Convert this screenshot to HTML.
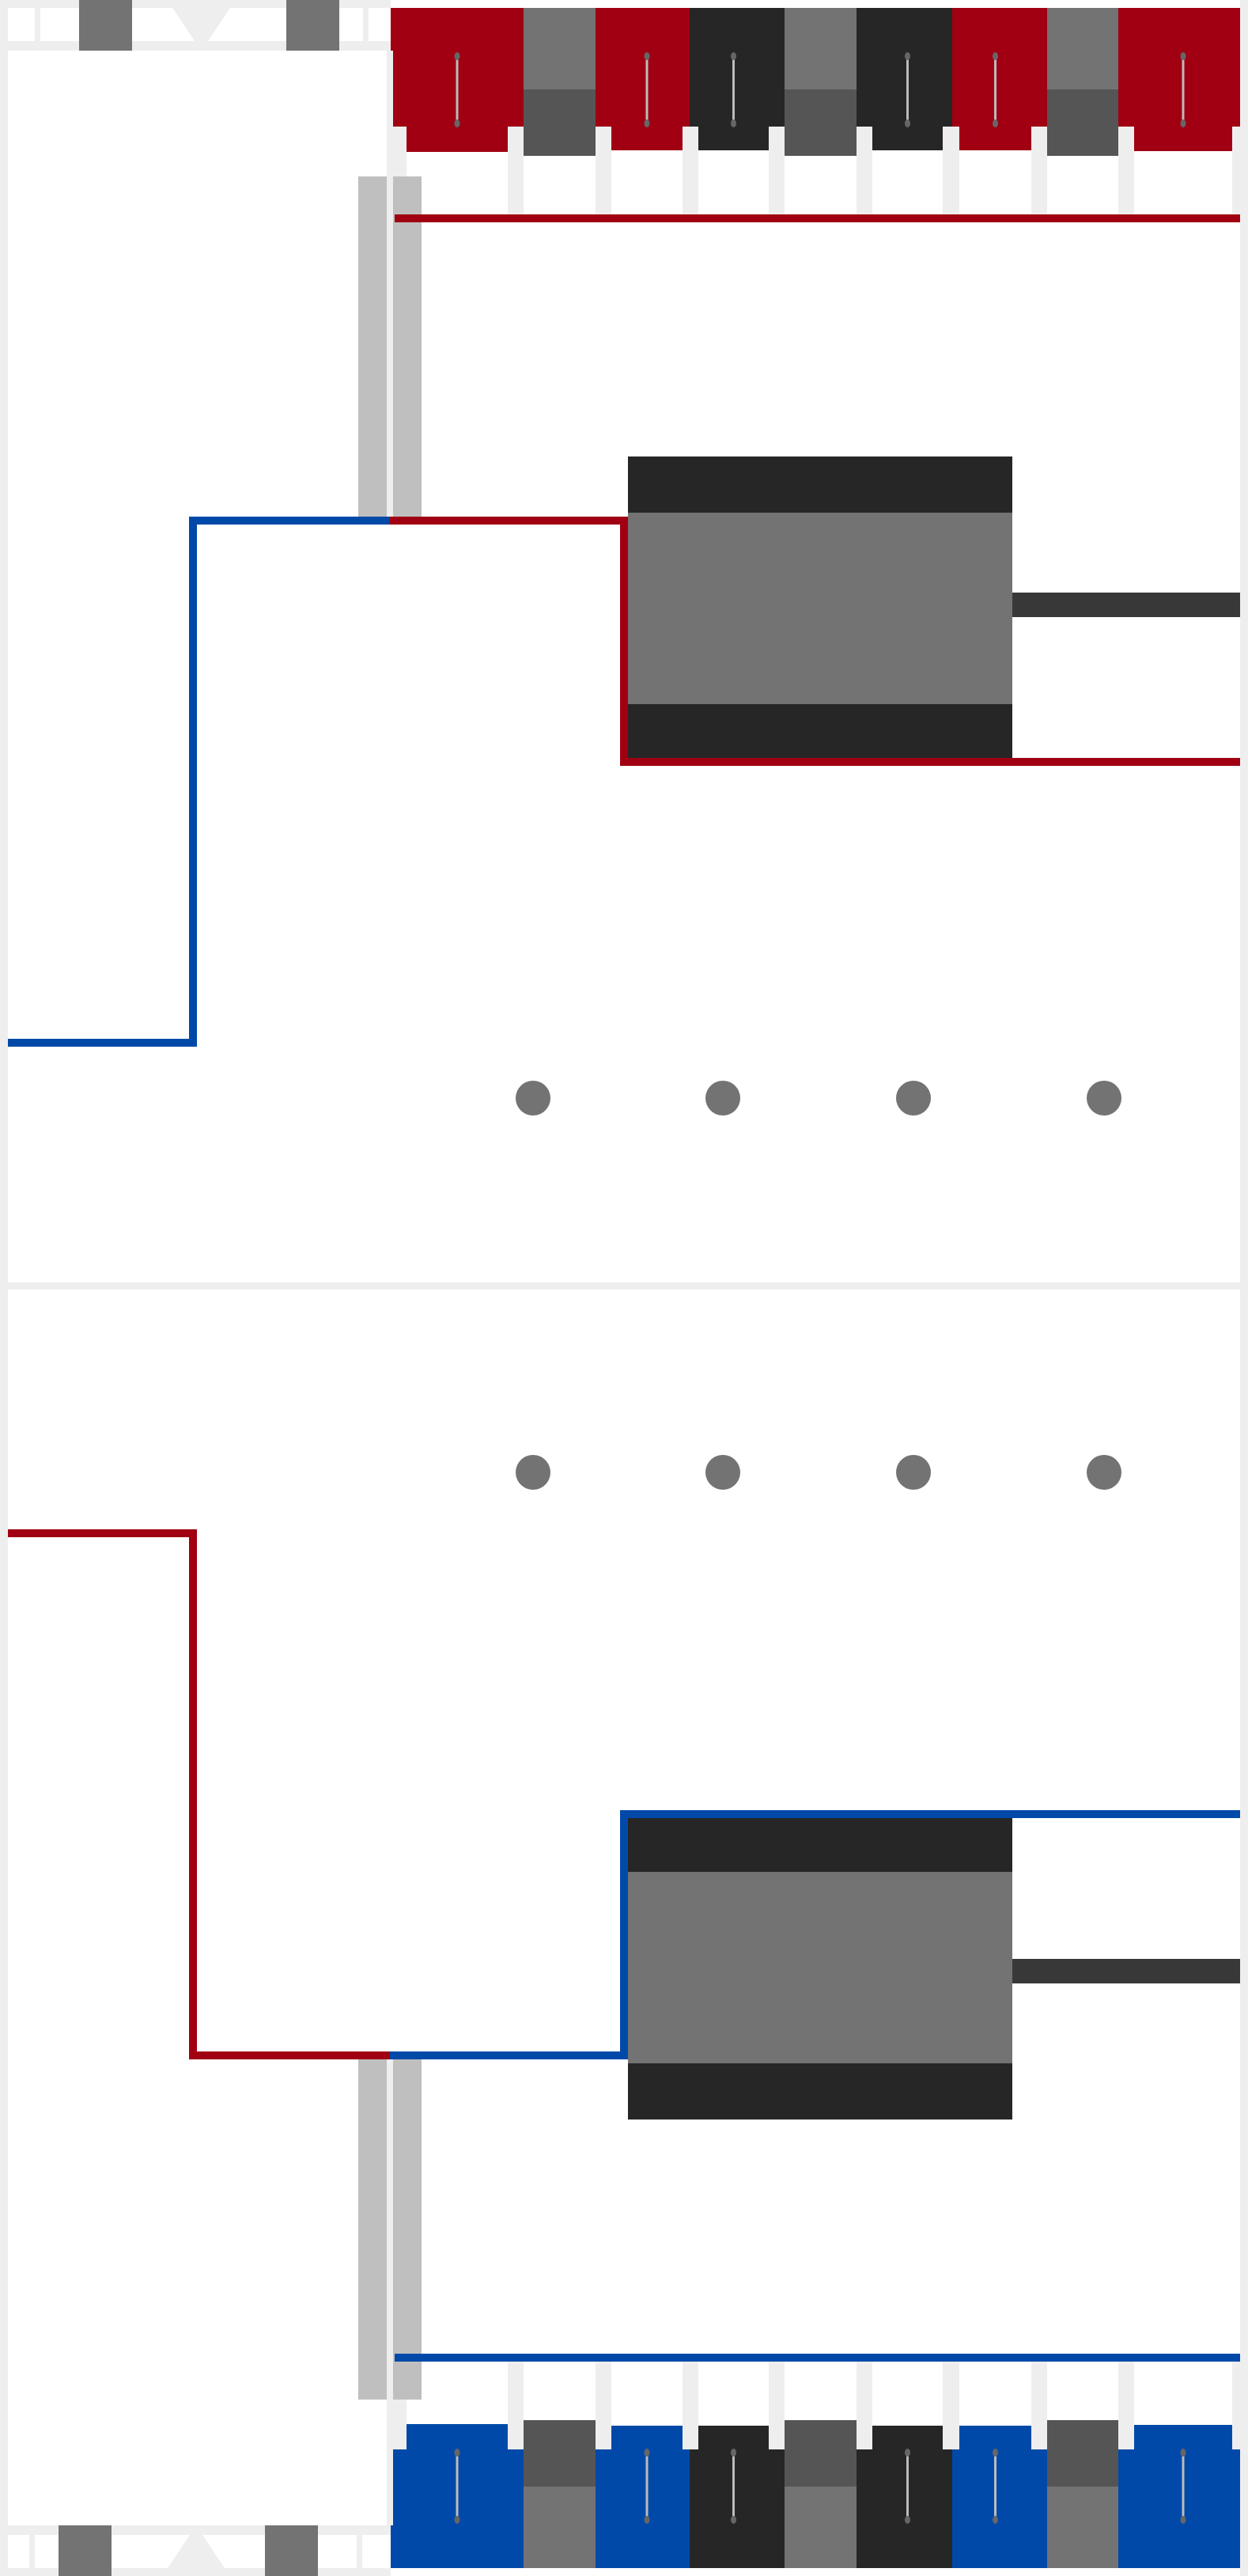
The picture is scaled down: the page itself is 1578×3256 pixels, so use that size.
<!DOCTYPE html>
<html><head><meta charset="utf-8"><style>
html,body{margin:0;padding:0;background:#fff}
svg{display:block}
</style></head>
<body>
<svg id="s" xmlns="http://www.w3.org/2000/svg" width="1578" height="3256" viewBox="0 0 1578 3256">
<rect width="1578" height="3256" fill="#fff"/>
<g id="top"></g>
<g id="bot" transform="translate(0,3256) scale(1,-1)"></g>
<g id="chrome"></g>
</svg>
<script>
const NS='http://www.w3.org/2000/svg';
const colX0=[494,662,753,872,992,1083,1204,1324,1414];
const colX1=[662,753,872,992,1083,1204,1324,1414,1568];
const colKind=['a','g','a','d','g','d','a','g','a'];
const tabX0=[514,662,773,883,992,1103,1213,1324,1434];
const tabX1=[642,753,863,972,1083,1192,1304,1414,1558];
const tabBot=[192,197,190,190,197,190,190,197,191];
const dotX=[674,914,1155,1396];
const dotYTop=1388;
const dotYBottom=1395;
function r(g,x,y,w,h,f,name){const e=document.createElementNS(NS,'rect');e.setAttribute('x',x);e.setAttribute('y',y);e.setAttribute('width',w);e.setAttribute('height',h);e.setAttribute('fill',f);


g.appendChild(e);return e;}
function half(g,acc,alt,pre,dotY){
  r(g,494,160,1074,111,'#eeeeee',pre+'tab-area');
  for(let i=0;i<colX0.length;i++){
    r(g,tabX0[i],160,tabX1[i]-tabX0[i],111,'#ffffff',pre+'column-slot');
    const k=colKind[i];
    if(k==='g'){
      r(g,colX0[i],10,colX1[i]-colX0[i],103,'#737373',pre+'gray-column');
      r(g,colX0[i],113,colX1[i]-colX0[i],tabBot[i]-113,'#555555',pre+'gray-column-lower');
    }else{
      const c=k==='a'?acc:'#262626';
      r(g,colX0[i],10,colX1[i]-colX0[i],150,c,pre+(k==='a'?'accent-column':'dark-column'));
      r(g,tabX0[i],160,tabX1[i]-tabX0[i],tabBot[i]-160,c,pre+'column-tab');
      const cx=(tabX0[i]+tabX1[i])/2;
      r(g,cx-1.5,72,3,84,'#bbbbbb',pre+'pin-line');
      for(const y of [71,156]){const e=document.createElementNS(NS,'ellipse');e.setAttribute('cx',cx);e.setAttribute('cy',y);e.setAttribute('rx',3.5);e.setAttribute('ry',5);e.setAttribute('fill','#666');
      
      
      g.appendChild(e);}
    }
  }
  r(g,489,64,8,590,'#eeeeee',pre+'guide-line');
  r(g,453,223,36,430,'#bfbfbf',pre+'gray-bar-left');
  r(g,497,223,36,430,'#bfbfbf',pre+'gray-bar-right');
  r(g,499,271,1069,10,acc,pre+'accent-rail');
  r(g,10,1313,239,10,alt,pre+'trace-horizontal-low');
  r(g,239,653,10,670,alt,pre+'trace-vertical-left');
  r(g,239,653,254,10,alt,pre+'trace-horizontal-mid');
  r(g,493,653,301,10,acc,pre+'trace-horizontal-upper');
  r(g,784,653,10,315,acc,pre+'trace-vertical-right');
  r(g,784,958,784,10,acc,pre+'trace-horizontal-right');
  r(g,794,577,486,71,'#262626',pre+'component-top');
  r(g,794,648,486,242,'#737373',pre+'component-body');
  r(g,794,890,486,68,'#262626',pre+'component-bottom');
  r(g,1280,749,288,31,'#383838',pre+'component-lead');
  for(const x of dotX){const c=document.createElementNS(NS,'circle');c.setAttribute('cx',x);c.setAttribute('cy',dotY);c.setAttribute('r',22);c.setAttribute('fill','#737373');
  
  
  g.appendChild(c);}
}
half(document.getElementById('top'),'#a00012','#0049a8','top-',dotYTop);
half(document.getElementById('bot'),'#0049a8','#a00012','bottom-',dotYBottom);
const ch=document.getElementById('chrome');
r(ch,0,0,10,3256,'#eeeeee','left-border');
r(ch,1568,0,10,3256,'#eeeeee','right-border');
r(ch,0,1621,1578,9,'#eeeeee','center-divider');
r(ch,10,0,484,10,'#eeeeee','top-strip');
r(ch,10,52,484,12,'#eeeeee','top-strip-lower');
r(ch,44,10,7,42,'#eeeeee','top-sep-a');
r(ch,459,10,7,42,'#eeeeee','top-sep-b');
let p=document.createElementNS(NS,'polygon');p.setAttribute('points','218,10 291,10 263,52 246,52');p.setAttribute('fill','#eeeeee');


ch.appendChild(p);
r(ch,100,0,67,64,'#737373','top-clip-left');
r(ch,362,0,67,64,'#737373','top-clip-right');
r(ch,10,3246,484,10,'#eeeeee','bottom-strip');
r(ch,10,3192,484,12,'#eeeeee','bottom-strip-upper');
r(ch,37,3204,7,42,'#eeeeee','bottom-sep-a');
r(ch,451,3204,7,42,'#eeeeee','bottom-sep-b');
p=document.createElementNS(NS,'polygon');p.setAttribute('points','212,3246 284,3246 256,3204 240,3204');p.setAttribute('fill','#eeeeee');


ch.appendChild(p);
r(ch,74,3192,67,64,'#737373','bottom-clip-left');
r(ch,335,3192,67,64,'#737373','bottom-clip-right');
</script>
</body></html>
